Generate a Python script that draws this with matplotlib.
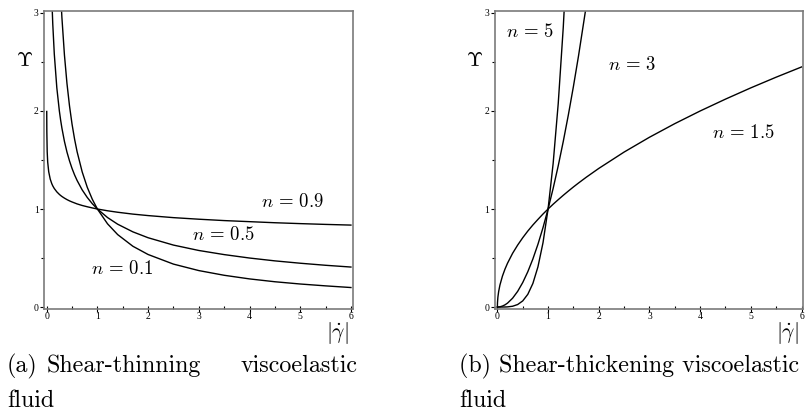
import matplotlib
matplotlib.use("Agg")
import matplotlib.pyplot as plt
import numpy as np
from matplotlib.ticker import MultipleLocator

plt.rcParams['mathtext.fontset'] = 'cm'
plt.rcParams['font.family'] = 'Liberation Serif'

# values
x_thin = [0.001, 0.003, 0.01, 0.02, 0.04, 0.07, 0.1, 0.12, 0.15, 0.2, 0.25, 0.275,
          0.3, 0.35, 0.4, 0.45, 0.5, 0.55, 0.6, 0.7, 0.8, 0.9, 1.0, 1.2, 1.4, 1.7,
          2.0, 2.5, 3.0, 3.5, 4.0, 4.5, 5.0, 5.5, 6.0]
y_n09 = [1.995, 1.788, 1.585, 1.479, 1.380, 1.305, 1.259, 1.236, 1.209, 1.175, 1.149, 1.138,
         1.128, 1.111, 1.096, 1.083, 1.072, 1.062, 1.052, 1.036, 1.023, 1.011, 1.000, 0.982, 0.967, 0.948,
         0.933, 0.912, 0.896, 0.882, 0.871, 0.860, 0.851, 0.843, 0.836]
y_n05 = [31.62, 18.26, 10.0, 7.071, 5.0, 3.780, 3.162, 2.887, 2.582, 2.236, 2.0, 1.907,
         1.826, 1.690, 1.581, 1.491, 1.414, 1.348, 1.291, 1.195, 1.118, 1.054, 1.0, 0.913, 0.845, 0.767,
         0.707, 0.632, 0.577, 0.535, 0.5, 0.471, 0.447, 0.426, 0.408]
y_n01 = [501.0, 186.4, 63.1, 33.8, 18.1, 10.95, 7.943, 6.74, 5.515, 4.257, 3.482, 3.196,
         2.955, 2.572, 2.281, 2.052, 1.866, 1.713, 1.584, 1.379, 1.222, 1.099, 1.0, 0.849, 0.739, 0.620,
         0.536, 0.438, 0.372, 0.324, 0.287, 0.258, 0.235, 0.216, 0.199]

x_thick = [0, 0.002, 0.01, 0.025, 0.05, 0.1, 0.15, 0.2, 0.3, 0.4, 0.5, 0.6, 0.7, 0.8, 0.9,
           1.0, 1.1, 1.2, 1.3, 1.4, 1.5, 1.6, 1.75, 2.0, 2.5, 3.0, 3.5, 4.0, 4.5, 5.0, 5.5, 6.0]
y_n15 = [0, 0.0447, 0.1, 0.158, 0.224, 0.316, 0.387, 0.447, 0.548, 0.632, 0.707, 0.775, 0.837, 0.894, 0.949,
         1.0, 1.049, 1.095, 1.140, 1.183, 1.225, 1.265, 1.323, 1.414, 1.581, 1.732, 1.871, 2.0, 2.121, 2.236, 2.345, 2.449]
y_n3 = [0, 0.0, 0.0001, 0.0006, 0.0025, 0.01, 0.0225, 0.04, 0.09, 0.16, 0.25, 0.36, 0.49, 0.64, 0.81,
        1.0, 1.21, 1.44, 1.69, 1.96, 2.25, 2.56, 3.063, 4.0, 6.25, 9.0, 12.25, 16.0, 20.25, 25.0, 30.25, 36.0]
y_n5 = [0, 0.0, 0.0, 0.0, 0.0, 0.0001, 0.0005, 0.0016, 0.0081, 0.0256, 0.0625, 0.1296, 0.2401, 0.4096, 0.6561,
        1.0, 1.4641, 2.0736, 2.8561, 3.8416, 5.0625, 6.5536, 9.379, 16.0, 39.06, 81.0, 150.1, 256.0, 410.1, 625.0, 915.1, 1296.0]

W, H = 811, 412
fig = plt.figure(figsize=(W / 100, H / 100), dpi=100)

def setup(ax):
    ax.set_xlim(-0.047, 6.035)
    ax.set_ylim(-0.02, 3.02)
    for s in ax.spines.values():
        s.set_color('#7a7a7a')
        s.set_linewidth(1.2)
    ax.xaxis.set_major_locator(MultipleLocator(1))
    ax.xaxis.set_minor_locator(MultipleLocator(0.5))
    ax.yaxis.set_major_locator(MultipleLocator(1))
    ax.yaxis.set_minor_locator(MultipleLocator(0.5))
    ax.tick_params(axis='x', which='major', direction='inout', length=5, width=0.8,
                   pad=0, labelsize=7)
    ax.tick_params(axis='x', which='minor', direction='in', length=2.5, width=0.8)
    ax.tick_params(axis='y', which='major', direction='out', length=3, width=0.8,
                   pad=1, labelsize=7)
    ax.tick_params(axis='y', which='minor', direction='out', length=2, width=0.8)

ax1 = fig.add_axes([44.3 / W, 1 - 309 / H, 308.4 / W, 298 / H])
ax2 = fig.add_axes([495 / W, 1 - 309 / H, 308.3 / W, 298 / H])
for ax in (ax1, ax2):
    setup(ax)

for y in (y_n09, y_n05, y_n01):
    ax1.plot(x_thin, y, color='black', lw=1.0)
for y in (y_n15, y_n3, y_n5):
    ax2.plot(x_thick, y, color='black', lw=1.0)

def ftext(x, y, s, **kw):
    fig.text(x / W, 1 - y / H, s, **kw)

# axis labels
ftext(25, 62, r'$\Upsilon$', fontsize=15, ha='center', va='center')
ftext(475, 62, r'$\Upsilon$', fontsize=15, ha='center', va='center')
ftext(337, 333, r'$|\dot{\gamma}|$', fontsize=15.5, ha='center', va='center')
ftext(787, 333, r'$|\dot{\gamma}|$', fontsize=15.5, ha='center', va='center')

# curve labels
lab = dict(fontsize=13.5, ha='center', va='center')
ftext(292, 202, r'$n\,=\,0.9$', **lab)
ftext(223, 235, r'$n\,=\,0.5$', **lab)
ftext(122, 269, r'$n\,=\,0.1$', **lab)
ftext(530, 32, r'$n\,=\,5$', **lab)
ftext(632, 65, r'$n\,=\,3$', **lab)
ftext(743, 133, r'$n\,=\,1.5$', **lab)

# captions
cap = dict(fontsize=17.3, fontfamily='cmr10', va='baseline')
ftext(7, 372, '(a)', ha='left', **cap)
ftext(47, 372, 'Shear-thinning', ha='left', **cap)
ftext(358, 372, 'viscoelastic', ha='right', **cap)
ftext(7, 407, 'fluid', ha='left', **cap)
ftext(459, 372, '(b) Shear-thickening viscoelastic', ha='left', **cap)
ftext(459, 407, 'fluid', ha='left', **cap)

fig.savefig('out.png', dpi=100)
